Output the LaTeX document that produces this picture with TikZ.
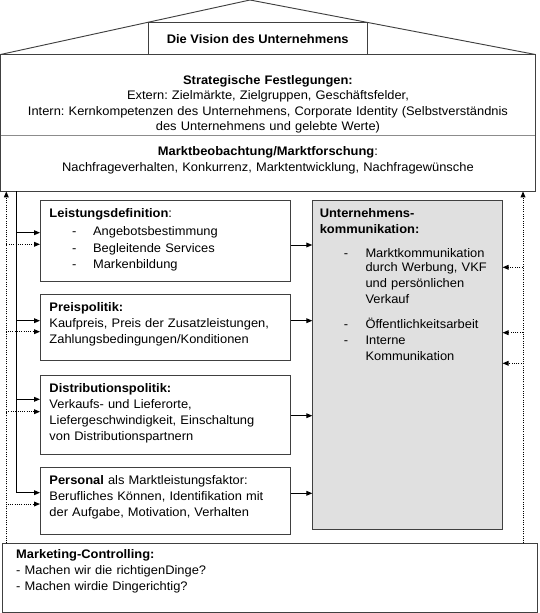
\documentclass[tikz,border=0pt]{standalone}
\usepackage{fontspec}
\setmainfont{Liberation Sans}[FakeStretch=1.04]
\usetikzlibrary{positioning,arrows.meta}
\frenchspacing

\newcommand{\ldash}[2]{\hspace*{#1}\makebox[#2][l]{-}}

\begin{document}
\begin{tikzpicture}[
  x=0.75pt, y=-0.75pt,
  line width=0.7pt,
  panel/.style={draw=black!75, anchor=north west, align=left, text height=8pt,
    inner ysep=4.5pt, inner xsep=7.5pt, font=\fontsize{9.3}{12}\selectfont},
  side/.style={panel, text width=174pt, inner xsep=6.75pt},
  arr/.style={-{Triangle[length=4.5pt,width=3.6pt]}},
  dotarr/.style={arr, densely dotted}
]
\useasboundingbox (0,0) rectangle (539,613);

% roof and top
\node[panel, draw=none, align=center, text width=394.5pt, inner xsep=3pt,
  inner ysep=14.1pt, text depth=24.2pt, font=\fontsize{9.3}{11.55}\selectfont]
  (strat) at (0.5,54.5)
  {\textbf{Strategische Festlegungen:}\\
   Extern: Zielmärkte, Zielgruppen, Geschäftsfelder,\\
   Intern: Kernkompetenzen des Unternehmens, Corporate Identity (Selbstverständnis\\
   des Unternehmens und gelebte Werte)};
\node[panel, draw=none, below=0pt of strat, align=center, text width=394.5pt,
  inner xsep=3pt, inner ysep=6.25pt, text depth=20.4pt] (markt)
  {\textbf{Marktbeobachtung/Marktforschung}:\\
   Nachfrageverhalten, Konkurrenz, Marktentwicklung, Nachfragewünsche};
\draw[black!75] (strat.north west) rectangle (markt.south east);
\draw[black!45] (strat.south west) -- (strat.south east);

\coordinate (apex) at (250,0);
\draw[black!75] (strat.north west) -- (apex) -- (strat.north east);
\node[draw=black!75, fill=white, anchor=north west, minimum width=164.25pt,
  minimum height=24.15pt, inner sep=0pt, font=\bfseries\fontsize{9.3}{11}\selectfont]
  (vision) at (147.7,22.3) {Die Vision des Unternehmens};

% marketing mix
\node[side, text depth=43.5pt] (leist) at (40,200)
  {\textbf{Leistungsdefinition}:\\[1.8pt]
   \ldash{17pt}{15.7pt}Angebotsbestimmung\\[0.5pt]
   \ldash{17pt}{15.7pt}Begleitende Services\\[0.5pt]
   \ldash{17pt}{15.7pt}Markenbildung};
\node[side, text depth=32.5pt, below=9.5pt of leist] (preis)
  {\textbf{Preispolitik:}\\
   Kaufpreis, Preis der Zusatzleistungen,\\
   Zahlungsbedingungen/Konditionen};
\node[side, text depth=41.8pt, below=10.5pt of preis] (distr)
  {\textbf{Distributionspolitik:}\\
   Verkaufs- und Lieferorte,\\
   Liefergeschwindigkeit, Einschaltung\\
   von Distributionspartnern};
\node[side, text depth=32.8pt, below=9.5pt of distr] (pers)
  {\textbf{Personal} als Marktleistungsfaktor:\\
   Berufliches Können, Identifikation mit\\
   der Aufgabe, Motivation, Verhalten};

\node[panel, fill=black!12, text width=131.5pt, inner xsep=5.25pt, text depth=230pt,
  font=\fontsize{9.3}{11.8}\selectfont] (komm) at (312.3,200)
  {\textbf{Unternehmens-}\\[0.6pt]
   \textbf{kommunikation:}\\[5.7pt]
   \ldash{18pt}{16.3pt}Marktkommunikation\\[-0.6pt]
   \hspace*{34.3pt}durch Werbung, VKF\\[0.2pt]
   \hspace*{34.3pt}und persönlichen\\
   \hspace*{34.3pt}Verkauf\\[7pt]
   \ldash{18pt}{16.3pt}Öffentlichkeitsarbeit\\
   \ldash{18pt}{16.3pt}Interne\\
   \hspace*{34.3pt}Kommunikation};

% controlling
\node[panel, text width=380.5pt, inner xsep=10.5pt, inner ysep=3pt, text depth=37.3pt]
  (ctrl) at (1.7,543.3)
  {\textbf{Marketing-Controlling:}\\
   - Machen wir die richtigenDinge?\\
   - Machen wirdie Dingerichtig?};

\coordinate (busL) at (markt.south -| 16.7,0);
\coordinate (ctlL) at (ctrl.north -| 6.3,0);
\coordinate (ctlR) at (ctrl.north -| 523,0);

% from market research
\draw[arr] (busL) |- (leist.west |- 0,232.7);
\draw[arr] (busL) |- (preis.west |- 0,320.7);
\draw[arr] (busL) |- (distr.west |- 0,399.3);
\draw[arr] (busL) |- (pers.west |- 0,492.7);

% into communication
\draw[arr] (leist.east |- 0,245) -- (komm.west |- 0,245);
\draw[arr] (preis.east |- 0,320.7) -- (komm.west |- 0,320.7);
\draw[arr] (distr.east |- 0,415.7) -- (komm.west |- 0,415.7);
\draw[arr] (pers.east |- 0,493.3) -- (komm.west |- 0,493.3);

% feedback from controlling
\draw[dotarr] (ctlL) -- (ctlL |- markt.south);
\draw[dotarr] (ctlL) |- (leist.west |- 0,244.3);
\draw[dotarr] (ctlL) |- (preis.west |- 0,331.7);
\draw[dotarr] (ctlL) |- (distr.west |- 0,411.7);
\draw[dotarr] (ctlL) |- (pers.west |- 0,504);

\draw[dotarr] (ctlR) -- (ctlR |- markt.south);
\draw[dotarr] (ctlR) |- (komm.east |- 0,267.3);
\draw[dotarr] (ctlR) |- (komm.east |- 0,332.7);
\draw[dotarr] (ctlR) |- (komm.east |- 0,363.3);
\end{tikzpicture}
\end{document}
